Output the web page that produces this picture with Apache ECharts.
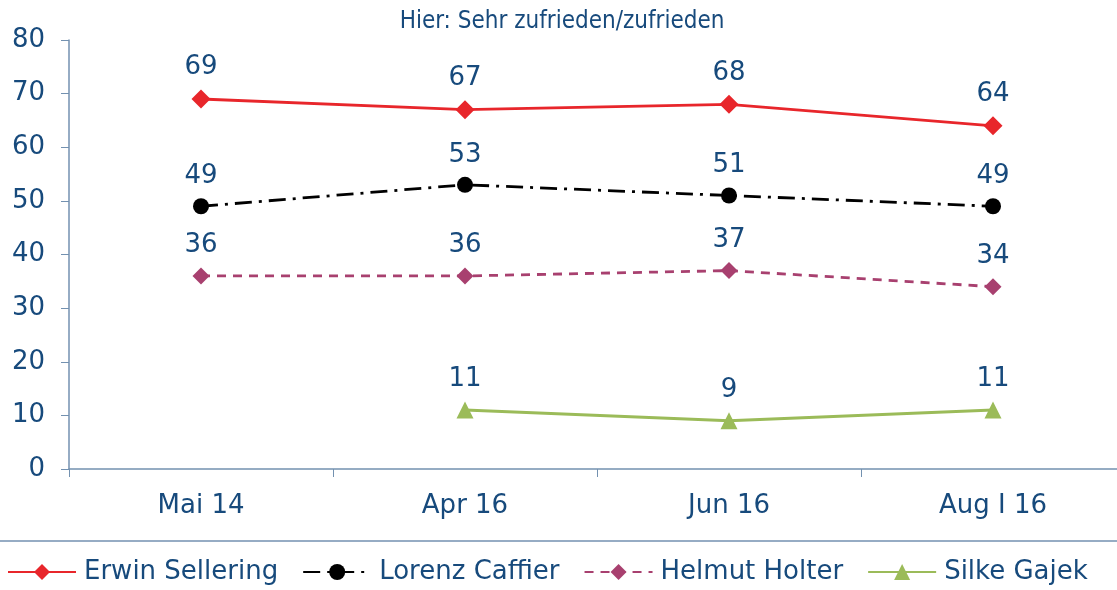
<!DOCTYPE html>
<html>
<head>
<meta charset="utf-8">
<script src="https://cdn.jsdelivr.net/npm/echarts@6/dist/echarts.min.js"></script>
<style>
  html, body { margin: 0; padding: 0; background: #fff; overflow: hidden; }
  /* etwas breiter als das Fenster: die x-Achse läuft rechts aus dem Bild */
  #chart { width: 1125px; height: 590px; }
</style>
</head>
<body>
<div id="chart"></div>
<script>
// Daten
const categories = ['Mai 14', 'Apr 16', 'Jun 16', 'Aug I 16'];
const sellering = [69, 67, 68, 64];
const caffier = [49, 53, 51, 49];
const holter = [36, 36, 37, 34];
const gajek = [null, 11, 9, 11];
const yTicks = { min: 0, max: 80, interval: 10 };

const textColor = '#174A7C';
const axisColor = '#7391B0';
const font = 'DejaVu Sans';

const chart = echarts.init(document.getElementById('chart'));

const label = {
  show: true,
  position: 'top',
  distance: 9,
  color: textColor,
  fontFamily: font,
  fontSize: 26
};

chart.setOption({
  animation: false,
  title: {
    text: 'Hier: Sehr zufrieden/zufrieden',
    left: 557,
    textAlign: 'center',
    top: 5,
    textStyle: { color: textColor, fontFamily: 'DejaVu Sans Condensed', fontSize: 24, fontWeight: 'normal' }
  },
  grid: { left: 69, right: 0, top: 40, bottom: 121, containLabel: false },
  xAxis: {
    type: 'category',
    data: categories,
    boundaryGap: true,
    axisLine: { lineStyle: { color: axisColor, width: 1.5 } },
    axisTick: { show: true, length: 8, inside: false, lineStyle: { color: axisColor } },
    axisLabel: { color: textColor, fontFamily: font, fontSize: 26, margin: 24 }
  },
  yAxis: {
    type: 'value',
    min: yTicks.min,
    max: yTicks.max,
    interval: yTicks.interval,
    splitLine: { show: false },
    axisLine: { show: true, lineStyle: { color: axisColor, width: 1.5 } },
    axisTick: { show: true, length: 8, lineStyle: { color: axisColor } },
    axisLabel: { color: textColor, fontFamily: font, fontSize: 26, margin: 24 }
  },
  legend: {
    bottom: 0,
    left: 2,
    itemWidth: 68,
    itemHeight: 20,
    itemGap: 24,
    textStyle: { color: textColor, fontFamily: font, fontSize: 26, padding: [0, 0, 0, 3] }
  },
  graphic: [{
    type: 'line',
    shape: { x1: 0, y1: 541, x2: 1125, y2: 541 },
    style: { stroke: axisColor, lineWidth: 1.5 }
  }],
  series: [
    {
      name: 'Erwin Sellering', type: 'line', data: sellering,
      symbol: 'diamond', symbolSize: 19,
      itemStyle: { color: '#E8262B' },
      lineStyle: { color: '#E8262B', width: 2.8 },
      label: label
    },
    {
      name: 'Lorenz Caffier', type: 'line', data: caffier,
      symbol: 'circle', symbolSize: 16,
      itemStyle: { color: '#000' },
      lineStyle: { color: '#000', width: 2.8, type: [17, 7, 3, 7] },
      label: label
    },
    {
      name: 'Helmut Holter', type: 'line', data: holter,
      symbol: 'diamond', symbolSize: 17,
      itemStyle: { color: '#A8406F' },
      lineStyle: { color: '#A8406F', width: 2.8, type: [9, 7] },
      label: label
    },
    {
      name: 'Silke Gajek', type: 'line', data: gajek,
      symbol: 'triangle', symbolSize: 17,
      itemStyle: { color: '#9BBB59' },
      lineStyle: { color: '#9BBB59', width: 2.8 },
      label: label
    }
  ]
});
</script>
</body>
</html>
